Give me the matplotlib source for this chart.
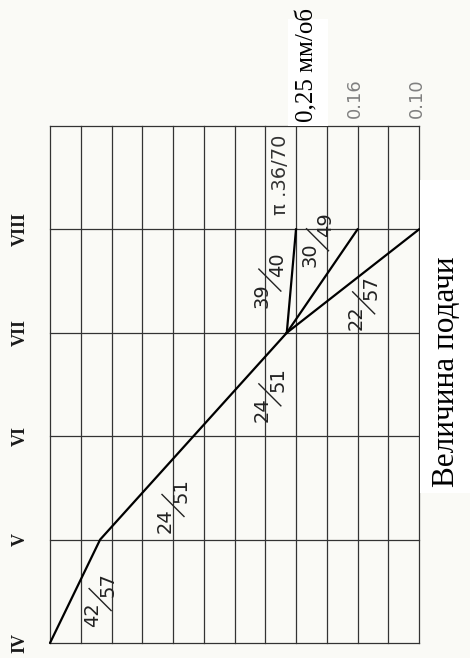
import matplotlib
matplotlib.use('Agg')
import matplotlib.pyplot as plt
from matplotlib.patches import Rectangle
from matplotlib.transforms import offset_copy, ScaledTranslation

# rows of the diagram (speed steps) and grid columns
rows = ['IV', 'V', 'VI', 'VII', 'VIII']
row_pos = [0, 1, 2, 3, 4]
n_cols = 12
n_rows = 5

# feed values written above the grid
feed_labels = ['0.16', '0.10']
feed_cols = [10, 12]
feed_main = '0,25 мм/об'
feed_main_col = 8

# main ray IV -> V -> VII
main_x = [0, 1.63, 7.7]
main_y = [0, 1, 3]
# three branches from VII to VIII
branch_x = [8, 10, 12]
branch_y = [4, 4, 4]

# gear ratio labels (numerator, denominator, x, y)
gears = [('42', '57', 1.63, 0.42),
         ('24', '51', 4.0, 1.33),
         ('24', '51', 7.15, 2.40),
         ('39', '40', 7.15, 3.51),
         ('30', '49', 8.7, 3.90),
         ('22', '57', 10.2, 3.29)]
note = 'π .36/70'

W, H = 470, 658
fig = plt.figure(figsize=(W / 100, H / 100), dpi=100, facecolor='#fafaf6')
ax = fig.add_axes([50 / W, 1 - 643 / H, (419 - 50) / W, (643 - 126) / H])
ax.set_xlim(0, n_cols)
ax.set_ylim(0, n_rows)
ax.axis('off')

grid_c = '#333333'
for i in range(n_cols + 1):
    ax.plot([i, i], [0, n_rows], color=grid_c, lw=0.9, clip_on=False)
for j in range(n_rows + 1):
    ax.plot([0, n_cols], [j, j], color=grid_c, lw=0.9, clip_on=False)

ax.plot(main_x, main_y, color='black', lw=1.6, clip_on=False, solid_capstyle='round')
for bx, by in zip(branch_x, branch_y):
    ax.plot([main_x[-1], bx], [main_y[-1], by], color='black', lw=1.6, clip_on=False)

for r, p in zip(rows, row_pos):
    ax.text(-0.98, p, r, rotation=90, ha='center', va='center', fontsize=13,
            fontweight='bold', family='Liberation Serif', color='#1a1a1a')

# fractions: numerator left/below, denominator right/above, slanted bar between
num_tr = offset_copy(ax.transData, fig=fig, x=-5.5, y=-11, units='points')
den_tr = offset_copy(ax.transData, fig=fig, x=5.5, y=11, units='points')
for num, den, x, y in gears:
    ax.text(x, y, num, rotation=90, ha='center', va='center', fontsize=14,
            color='#222222', transform=num_tr)
    ax.text(x, y, den, rotation=90, ha='center', va='center', fontsize=14,
            color='#222222', transform=den_tr)
    bar_tr = fig.dpi_scale_trans + ScaledTranslation(x, y, ax.transData)
    ax.plot([-0.11, 0.11], [0.11, -0.11], color='#222222', lw=1.0, transform=bar_tr,
            clip_on=False)

ax.text(7.48, 4.53, note, rotation=90, ha='center', va='center', fontsize=14,
        color='#333333')

for lab, c in zip(feed_labels, feed_cols):
    ax.text(c - 0.08, 5.08, lab, rotation=90, ha='center', va='bottom', fontsize=13,
            color='#808080')

# white patches of the overlaid captions
ax.add_patch(Rectangle((7.75, 5.0), 1.3, 1.03, facecolor='white', edgecolor='none',
                       clip_on=False, zorder=3))
ax.add_patch(Rectangle((12.03, 1.45), 2.0, 3.03, facecolor='white', edgecolor='none',
                       clip_on=False, zorder=3))
ax.text(8.36, 5.59, feed_main, rotation=90, ha='center', va='center', fontsize=18,
        family='Liberation Serif', color='black', zorder=4)
ax.text(12.9, 2.62, 'Величина подачи', rotation=90, ha='center', va='center',
        fontsize=22.5, family='Liberation Serif', color='black', zorder=4)

fig.savefig('out.png', dpi=100, facecolor=fig.get_facecolor())
